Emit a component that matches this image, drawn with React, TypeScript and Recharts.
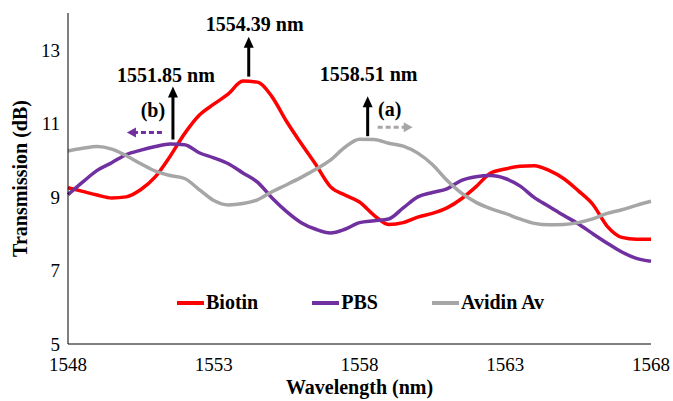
import React from "react";
import { LineChart, Line, XAxis, YAxis, Legend, ReferenceDot } from "recharts";

const wavelength = [
  1548, 1548.5, 1549, 1549.5, 1550, 1550.5, 1551, 1551.5, 1552, 1552.5, 1553,
  1553.5, 1554, 1554.5, 1555, 1555.5, 1556, 1556.5, 1557, 1557.5, 1558, 1558.5,
  1559, 1559.5, 1560, 1560.5, 1561, 1561.5, 1562, 1562.5, 1563, 1563.5, 1564,
  1564.5, 1565, 1565.5, 1566, 1566.5, 1567, 1567.5, 1568,
];
const biotin = [
  9.25, 9.15, 9.05, 8.97, 9.0, 9.2, 9.55, 10.1, 10.72, 11.22, 11.52, 11.8,
  12.15, 12.12, 11.72, 11.05, 10.45, 9.88, 9.28, 9.05, 8.86, 8.5, 8.25, 8.3,
  8.45, 8.55, 8.7, 8.95, 9.28, 9.65, 9.76, 9.83, 9.85, 9.72, 9.5, 9.17, 8.8,
  8.2, 7.9, 7.85, 7.85,
];
const pbs = [
  9.06, 9.4, 9.72, 9.93, 10.15, 10.27, 10.37, 10.44, 10.42, 10.2, 10.06, 9.9,
  9.65, 9.4, 8.97, 8.6, 8.3, 8.12, 8.02, 8.12, 8.3, 8.35, 8.4, 8.7, 9.0, 9.12,
  9.22, 9.45, 9.55, 9.58, 9.5, 9.3, 8.98, 8.74, 8.5, 8.27, 8.0, 7.74, 7.5,
  7.33, 7.25,
];
const avidin = [
  10.25, 10.32, 10.37, 10.3, 10.12, 9.9, 9.7, 9.58, 9.5, 9.2, 8.9, 8.78, 8.82,
  8.92, 9.14, 9.33, 9.53, 9.75, 10.0, 10.35, 10.57, 10.56, 10.46, 10.38, 10.19,
  9.88, 9.45, 9.1, 8.85, 8.68, 8.55, 8.4, 8.28, 8.24, 8.25, 8.3, 8.4, 8.55,
  8.65, 8.77, 8.88,
];

const seriesNames = ["Biotin", "PBS", "Avidin Av"];
const xTicks = [1548, 1553, 1558, 1563, 1568];
const yTicks = [5, 7, 9, 11, 13];

// peak markers
const peakLabels = ["1551.85 nm", "1554.39 nm", "1558.51 nm"];
const peakX = [1551.6, 1554.2, 1558.28];
const peakY = [10.56, 12.27, 10.65];

const data = wavelength.map((w, i) => ({
  w,
  Biotin: biotin[i],
  PBS: pbs[i],
  "Avidin Av": avidin[i],
}));

const FONT = '"Liberation Serif", "Times New Roman", serif';

const Arrow = (props: any) => {
  const { cx, cy, len, label, dx, gap, side } = props;
  if (cx == null || cy == null) return null;
  const tip = cy - len;
  return (
    <g>
      <line x1={cx} y1={cy} x2={cx} y2={tip + 9} stroke="#000" strokeWidth={3} />
      <polygon points={`${cx - 5},${tip + 11} ${cx + 5},${tip + 11} ${cx},${tip}`} fill="#000" />
      <text
        x={cx + dx}
        y={tip - gap}
        textAnchor="middle"
        fontFamily={FONT}
        fontWeight="bold"
        fontSize={20}
        fill="#000"
      >
        {label}
      </text>
      {side === "b" && (
        <g>
          <text x={cx - 20} y={cy - 23} textAnchor="middle" fontFamily={FONT} fontWeight="bold" fontSize={20} fill="#000">
            (b)
          </text>
          <line x1={cx - 11} y1={cy - 7} x2={cx - 38} y2={cy - 7} stroke="#7030A0" strokeWidth={3} strokeDasharray="5 3" />
          <polygon points={`${cx - 37},${cy - 12} ${cx - 37},${cy - 2} ${cx - 46},${cy - 7}`} fill="#7030A0" />
        </g>
      )}
      {side === "a" && (
        <g>
          <text x={cx + 22} y={cy - 20} textAnchor="middle" fontFamily={FONT} fontWeight="bold" fontSize={20} fill="#000">
            (a)
          </text>
          <line x1={cx + 10} y1={cy - 9} x2={cx + 37} y2={cy - 9} stroke="#A6A6A6" strokeWidth={3} strokeDasharray="5 3" />
          <polygon points={`${cx + 36},${cy - 14} ${cx + 36},${cy - 4} ${cx + 45},${cy - 9}`} fill="#A6A6A6" />
        </g>
      )}
    </g>
  );
};

const LegendContent = (props: any) => {
  const items = [...(props.payload || [])].sort(
    (a: any, b: any) => seriesNames.indexOf(a.value) - seriesNames.indexOf(b.value)
  );
  return (
    <div style={{ display: "flex", alignItems: "center", fontFamily: FONT }}>
      {items.map((p: any, i: number) => (
        <div key={i} style={{ display: "flex", alignItems: "center", marginRight: i < 2 ? 54 : 0 }}>
          <span style={{ display: "inline-block", width: 27, height: 4, background: p.color, marginRight: 2 }} />
          <span style={{ fontWeight: "bold", fontSize: 20, color: "#000" }}>{p.value}</span>
        </div>
      ))}
    </div>
  );
};

const arrowDx = [-7, 6, 1];
const arrowLen = [53, 40, 40];
const arrowGap = [5, 6, 15];
const arrowSide = ["b", "", "a"];

export default function App() {
  return (
    <div>
      <style>{`body { margin: 0; }`}</style>
      <LineChart
        width={673}
        height={401}
        data={data}
        margin={{ top: 13, right: 22, bottom: 0, left: 0 }}
        style={{ fontFamily: FONT }}
      >
        <XAxis
          dataKey="w"
          type="number"
          domain={[1548, 1568]}
          ticks={xTicks}
          tickLine={false}
          tickMargin={8}
          axisLine={{ stroke: "#000", strokeWidth: 1 }}
          tick={{ fill: "#000", fontSize: 19, fontFamily: FONT }}
          height={57}
          label={{
            value: "Wavelength (nm)",
            position: "insideBottom",
            offset: 7,
            fill: "#000",
            fontSize: 20,
            fontWeight: "bold",
            fontFamily: FONT,
          }}
        />
        <YAxis
          type="number"
          domain={[5, 14]}
          ticks={yTicks}
          tickLine={false}
          axisLine={{ stroke: "#000", strokeWidth: 1 }}
          tick={{ fill: "#000", fontSize: 19, fontFamily: FONT }}
          width={68}
          label={{
            value: "Transmission (dB)",
            angle: -90,
            position: "insideLeft",
            offset: 20,
            fill: "#000",
            fontSize: 20,
            fontWeight: "bold",
            fontFamily: FONT,
            style: { textAnchor: "middle" },
          }}
        />
        <Legend
          layout="horizontal"
          verticalAlign="middle"
          align="center"
          wrapperStyle={{ top: 291, left: 177, width: "auto" }}
          content={<LegendContent />}
        />
        <Line type="monotone" dataKey="Biotin" stroke="#FF0000" strokeWidth={3.5} dot={false} isAnimationActive={false} />
        <Line type="monotone" dataKey="PBS" stroke="#7030A0" strokeWidth={3.5} dot={false} isAnimationActive={false} />
        <Line type="monotone" dataKey="Avidin Av" stroke="#A6A6A6" strokeWidth={3.5} dot={false} isAnimationActive={false} />
        {peakLabels.map((lab, i) => (
          <ReferenceDot
            key={lab}
            x={peakX[i]}
            y={peakY[i]}
            ifOverflow="visible"
            shape={(p: any) => (
              <Arrow {...p} len={arrowLen[i]} label={lab} dx={arrowDx[i]} gap={arrowGap[i]} side={arrowSide[i]} />
            )}
          />
        ))}
      </LineChart>
    </div>
  );
}
